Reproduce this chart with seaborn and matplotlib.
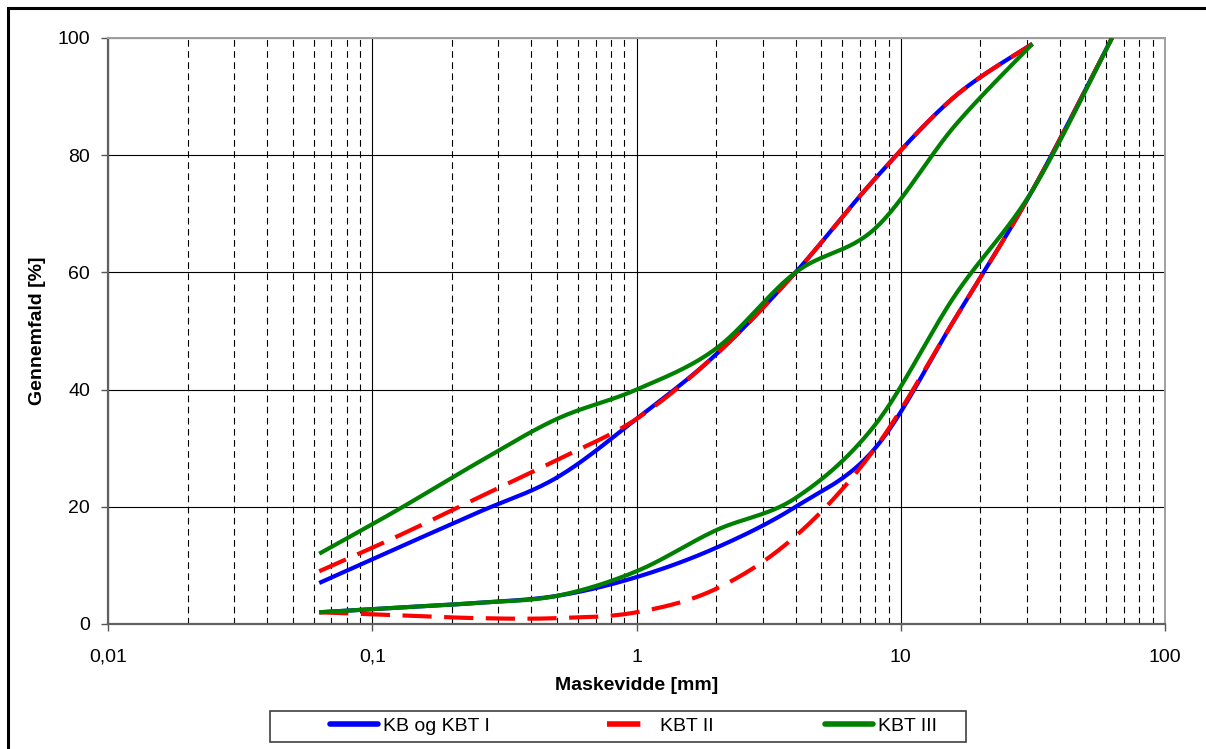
import numpy as np
import pandas as pd
import matplotlib
matplotlib.use("Agg")
import matplotlib.pyplot as plt
import seaborn as sns
from matplotlib.lines import Line2D
from matplotlib.patches import Rectangle
from matplotlib.ticker import LogLocator, FixedLocator, NullFormatter

# sigtestørrelser [mm]
sieve_upper = [0.063, 0.125, 0.25, 0.5, 1, 2, 4, 8, 16, 31.5]
sieve_lower = [0.063, 0.125, 0.25, 0.5, 1, 2, 4, 8, 16, 31.5, 63]

# gennemfald [%], øvre og nedre grænsekurve
kb_upper = [7, 13, 19, 25, 35, 46, 60, 76, 90, 99]
kb_lower = [2, 2.8, 3.6, 4.8, 8, 13, 20, 30, 52, 74, 100]
kbt2_upper = [9, 15, 21.5, 28, 35, 46, 60, 76, 90, 99]
kbt2_lower = [2, 1.5, 1, 1, 2, 6, 15, 30, 52, 74, 100]
kbt3_upper = [12, 19.5, 27.5, 35, 40, 47, 60, 67.5, 85, 99]
kbt3_lower = [2, 2.8, 3.6, 4.8, 9, 16, 21.5, 34, 56, 74, 100]

labels = ["KB og KBT I", "KBT II", "KBT III"]
colors = ["#0000ff", "#ff0000", "#008000"]

x_ticks = [0.01, 0.1, 1, 10, 100]
x_ticklabels = ["0,01", "0,1", "1", "10", "100"]
y_ticks = [0, 20, 40, 60, 80, 100]


def smooth(xs, ys, n=30):
    # Excel-agtig udglatning (Catmull-Rom i log-x)
    lx = np.log10(xs)
    ys = np.asarray(ys, float)
    P = np.column_stack([lx, ys])
    P = np.vstack([P[0], P, P[-1]])
    out = []
    t = np.linspace(0, 1, n, endpoint=False)
    for i in range(1, len(P) - 2):
        p0, p1, p2, p3 = P[i - 1], P[i], P[i + 1], P[i + 2]
        c1 = p1 + (p2 - p0) / 6
        c2 = p2 - (p3 - p1) / 6
        tt = t[:, None]
        seg = ((1 - tt) ** 3) * p1 + 3 * ((1 - tt) ** 2) * tt * c1 + 3 * (1 - tt) * tt ** 2 * c2 + tt ** 3 * p2
        out.append(seg)
    out.append(P[-2][None, :])
    out = np.vstack(out)
    return pd.DataFrame({"x": 10 ** out[:, 0], "y": out[:, 1]})


sns.set_theme(style="white")
plt.rcParams["font.family"] = ["Liberation Sans", "DejaVu Sans"]
plt.rcParams["text.color"] = "black"
plt.rcParams["axes.labelcolor"] = "black"

W, H = 1206, 749
fig = plt.figure(figsize=(W / 100, H / 100), dpi=100)
ax = fig.add_axes([108 / W, 1 - 624 / H, (1165 - 108) / W, (624 - 38) / H])

curves = [
    (kb_upper, kb_lower, "-"),
    (kbt2_upper, kbt2_lower, (0, (7, 3))),
    (kbt3_upper, kbt3_lower, "-"),
]
for (up, lo, ls), col in zip(curves, colors):
    for xs, ys in [(sieve_upper, up), (sieve_lower, lo)]:
        df = smooth(xs, ys)
        sns.lineplot(data=df, x="x", y="y", ax=ax, color=col, lw=3,
                     linestyle=ls, estimator=None, sort=False, zorder=3,
                     solid_capstyle="butt", dash_capstyle="butt")

ax.set_xscale("log")
ax.set_xlim(0.01, 100)
ax.set_ylim(0, 100)
ax.xaxis.set_major_locator(FixedLocator(x_ticks))
ax.set_xticklabels(x_ticklabels)
ax.xaxis.set_minor_locator(LogLocator(base=10, subs=np.arange(2, 10)))
ax.xaxis.set_minor_formatter(NullFormatter())
ax.set_yticks(y_ticks)

ax.grid(True, which="major", color="black", lw=0.8)
ax.grid(True, which="minor", axis="x", color="black", lw=0.8, linestyle=(0, (6, 4)))
ax.set_axisbelow(True)

ax.tick_params(axis="both", which="major", direction="out", length=5, width=1,
               color="#555555", labelcolor="black", labelsize=14, left=True, bottom=True)
ax.tick_params(axis="x", which="major", pad=13)
ax.tick_params(axis="y", which="major", pad=8)
ax.tick_params(axis="x", which="minor", length=0)
for side in ["left", "bottom"]:
    ax.spines[side].set_color("#606060")
    ax.spines[side].set_linewidth(1.6)
for side in ["top", "right"]:
    ax.spines[side].set_color("#a0a0a0")
    ax.spines[side].set_linewidth(1.4)

ax.set_xlabel("Maskevidde [mm]", fontsize=14, fontweight="bold", labelpad=8)
ax.set_ylabel("Gennemfald [%]", fontsize=14, fontweight="bold", labelpad=8)

# forklaring: én post ad gangen, placeret som i originalen
handles = [Line2D([], [], color=colors[0], lw=4),
           Line2D([], [], color=colors[1], lw=4, linestyle=(0, (6, 3))),
           Line2D([], [], color=colors[2], lw=4)]
for h, lab, x0 in zip(handles, labels, [330, 607, 825]):
    fig.legend([h], [lab], loc="center left", bbox_to_anchor=(x0 / W, 1 - 726 / H),
               frameon=False, fontsize=14, handlelength=2.47, handletextpad=0.25,
               borderpad=0, borderaxespad=0, labelcolor="black")
fig.patches.append(Rectangle((270 / W, 1 - 742 / H), 696 / W, 31 / H, fill=False,
                             edgecolor="#404040", lw=1.2, transform=fig.transFigure))
fig.patches.append(Rectangle((8 / W, -0.05), 1.1, 1.05 - 8 / H, fill=False,
                             edgecolor="black", lw=2.2, transform=fig.transFigure))

fig.savefig("out.png", dpi=100)
